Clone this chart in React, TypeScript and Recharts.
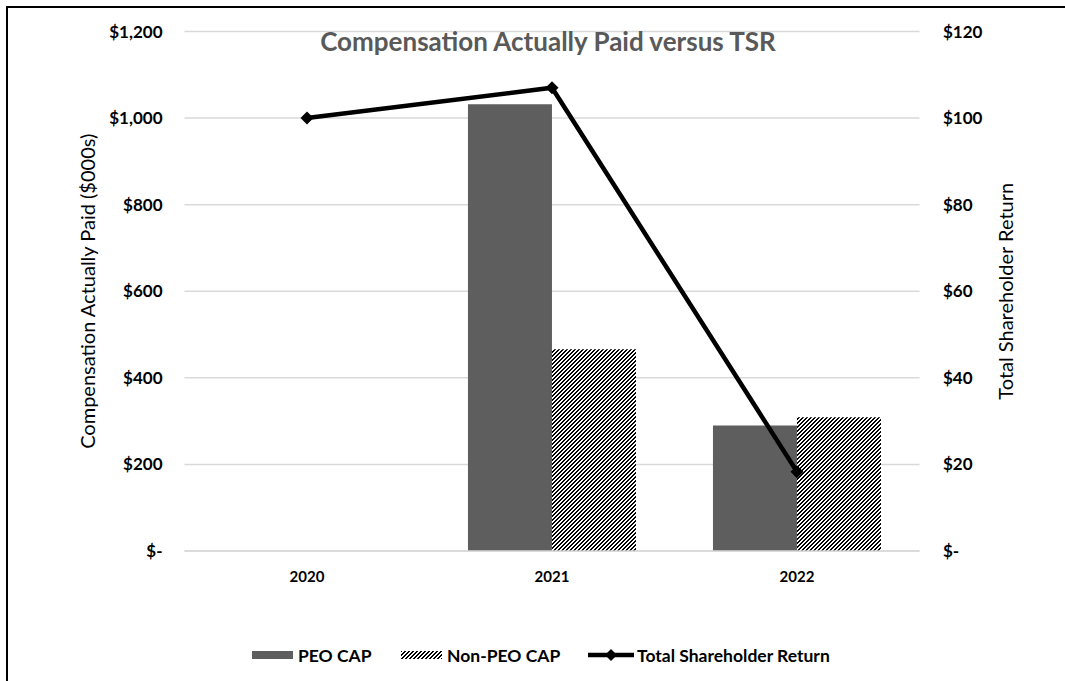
import { ComposedChart, Bar, Line, XAxis, YAxis, CartesianGrid, Legend } from 'recharts';

const years = ['2020', '2021', '2022'];
const peoCap = [null, 1032, 290];
const nonPeoCap = [null, 466, 309];
const tsr = [100, 107, 18.3];

const capTicks = [0, 200, 400, 600, 800, 1000, 1200];
const tsrTicks = [0, 20, 40, 60, 80, 100, 120];

const data = years.map((year, i) => ({
  year,
  peo: peoCap[i],
  nonPeo: nonPeoCap[i],
  tsr: tsr[i],
}));

const FONT = 'Lato, "Open Sans", sans-serif';
const PEO_COLOR = '#5e5e5e';
const GRID = '#d9d9d9';

const dollar = (v: number) => (v === 0 ? '$-' : '$' + v.toLocaleString('en-US'));

function Diamond({ cx, cy }: any) {
  if (cx == null || cy == null) return null;
  const r = 6.5;
  return <polygon points={`${cx},${cy - r} ${cx + r},${cy} ${cx},${cy + r} ${cx - r},${cy}`} fill="#000" />;
}

function AxisTitle({ viewBox, text, dx }: any) {
  const x = viewBox.x + dx;
  const y = viewBox.y + viewBox.height / 2;
  return (
    <text
      x={x}
      y={y}
      transform={`rotate(-90, ${x}, ${y})`}
      textAnchor="middle"
      dominantBaseline="central"
      fontFamily={FONT}
      fontSize={20}
      fill="#000"
    >
      {text}
    </text>
  );
}

// legend items sit at fixed x offsets like the Excel original
function LegendContent() {
  const item = (left: number) => ({
    position: 'absolute', left, top: 0, height: 40,
    display: 'flex', alignItems: 'center', gap: 5, whiteSpace: 'nowrap',
  } as const);
  return (
    <div style={{
      position: 'relative',
      height: 40,
      fontFamily: FONT,
      fontSize: 17.5,
      fontWeight: 700,
      color: '#000',
    }}>
      <span style={item(252)}>
        <svg width={41} height={8}><rect width={41} height={8} fill={PEO_COLOR} /></svg>
        PEO CAP
      </span>
      <span style={item(401)}>
        <svg width={41} height={8}><rect width={41} height={8} fill="url(#hatch)" /></svg>
        Non-PEO CAP
      </span>
      <span style={{ ...item(588), gap: 3 }}>
        <svg width={46} height={14}>
          <line x1={0} y1={7} x2={46} y2={7} stroke="#000" strokeWidth={4.5} />
          <polygon points="23,1 29,7 23,13 17,7" fill="#000" />
        </svg>
        Total Shareholder Return
      </span>
    </div>
  );
}

export default function App() {
  return (
    <div style={{ position: 'absolute', left: 0, top: 0, width: 1065, height: 681, background: '#fff' }}>
      <div style={{
        position: 'absolute',
        left: 6,
        top: 6,
        right: 0,
        bottom: 0,
        borderTop: '2px solid #000',
        borderLeft: '2px solid #000',
      }} />
      <ComposedChart
        width={1065}
        height={681}
        data={data}
        margin={{ top: 31.5, right: 25.5, left: 14.5, bottom: 6 }}
        barCategoryGap="15.7%"
        barGap={0}
      >
        <defs>
          <pattern id="hatch" patternUnits="userSpaceOnUse" width={4} height={4}>
            <rect width={4} height={4} fill="#fff" />
            <rect x={3} y={0} width={1} height={1} fill="#000" />
            <rect x={0} y={0} width={1} height={1} fill="#000" />
            <rect x={2} y={1} width={2} height={1} fill="#000" />
            <rect x={1} y={2} width={2} height={1} fill="#000" />
            <rect x={0} y={3} width={2} height={1} fill="#000" />
          </pattern>
        </defs>
        <CartesianGrid yAxisId="cap" vertical={false} stroke={GRID} strokeWidth={1.5} />
        <XAxis
          dataKey="year"
          height={84}
          tickLine={false}
          tickSize={0}
          tickMargin={20}
          axisLine={{ stroke: GRID, strokeWidth: 1.5 }}
          tick={{ fontSize: 15, fontWeight: 700, fill: '#000', fontFamily: FONT }}
        />
        <YAxis
          yAxisId="cap"
          width={170}
          domain={[0, 1200]}
          ticks={capTicks}
          tickFormatter={dollar}
          axisLine={false}
          tickLine={false}
          tickSize={0}
          tickMargin={22}
          tick={{ fontSize: 17, fontWeight: 700, fill: '#000', fontFamily: FONT }}
          label={<AxisTitle text="Compensation Actually Paid ($000s)" dx={72} />}
        />
        <YAxis
          yAxisId="tsr"
          orientation="right"
          width={120}
          domain={[0, 120]}
          ticks={tsrTicks}
          tickFormatter={dollar}
          axisLine={false}
          tickLine={false}
          tickSize={0}
          tickMargin={23.5}
          tick={{ fontSize: 17, fontWeight: 700, fill: '#000', fontFamily: FONT }}
          label={<AxisTitle text="Total Shareholder Return" dx={85.5} />}
        />
        <Legend verticalAlign="bottom" height={40} wrapperStyle={{ left: 0, width: 1065 }} content={<LegendContent />} />
        <Bar yAxisId="cap" dataKey="peo" name="PEO CAP" fill={PEO_COLOR} isAnimationActive={false} />
        <Bar yAxisId="cap" dataKey="nonPeo" name="Non-PEO CAP" fill="url(#hatch)" isAnimationActive={false} />
        <Line
          yAxisId="tsr"
          dataKey="tsr"
          name="Total Shareholder Return"
          stroke="#000"
          strokeWidth={4.5}
          dot={(p: any) => <Diamond key={`tsr-dot-${p.index}`} cx={p.cx} cy={p.cy} />}
          activeDot={false}
          isAnimationActive={false}
        />
        <text
          x={548}
          y={51}
          textAnchor="middle"
          fontFamily={FONT}
          fontSize={26}
          fontWeight={700}
          fill="#595959"
        >
          Compensation Actually Paid versus TSR
        </text>
      </ComposedChart>
    </div>
  );
}
